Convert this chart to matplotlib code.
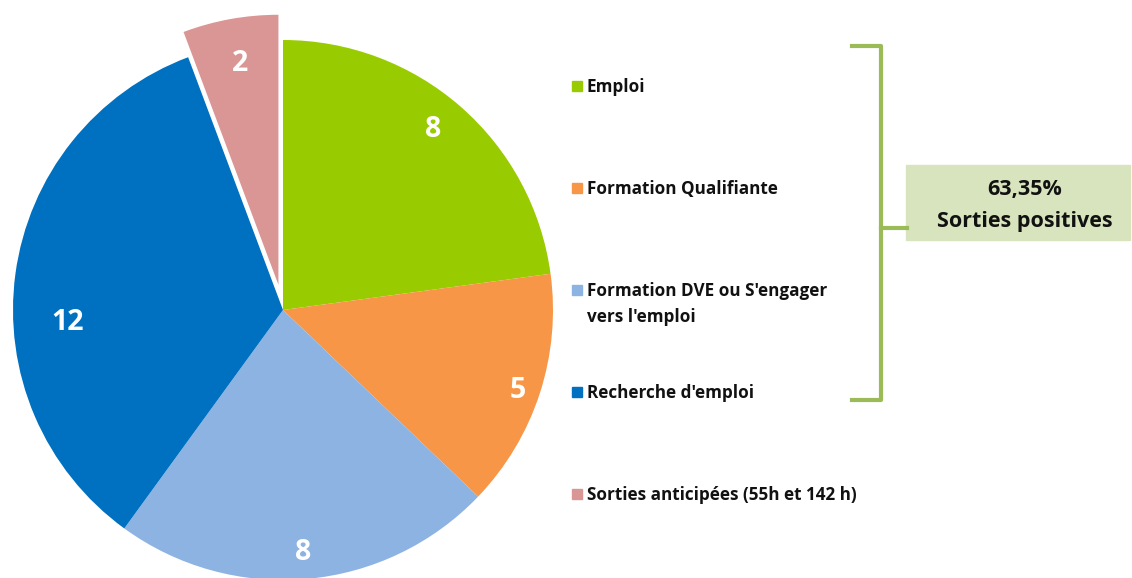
import numpy as np
import matplotlib.pyplot as plt
from matplotlib.patches import Rectangle

labels = ["Emploi", "Formation Qualifiante", "Formation DVE ou S'engager\nvers l'emploi",
          "Recherche d'emploi", "Sorties anticipées (55h et 142 h)"]
values = [8, 5, 8, 12, 2]
colors = ["#99cc00", "#f79646", "#8db3e2", "#0070c0", "#d99694"]
explode = [0, 0, 0, 0, 0.095]
box_text = "63,35%\nSorties positives"

# label placement tweaks (radius fraction, angle shift in degrees)
lab_r = [0.87, 0.92, 0.90, 0.80, 0.83]
lab_da = [1.5, -1, -0.5, 11, -0.5]

plt.rcParams['font.family'] = ['Open Sans', 'DejaVu Sans']

W, H = 1132, 578
fig = plt.figure(figsize=(W / 100, H / 100), dpi=100)

# pie axes: centre (283,310) px, radius 270 px
ax = fig.add_axes([13 / W, (H - 580) / H, 540 / W, 540 / H])
wedges, _ = ax.pie(values, colors=colors, explode=explode, startangle=90,
                   counterclock=False)
for w, v, r, da in zip(wedges, values, lab_r, lab_da):
    w.set_clip_on(False)
    ang = np.deg2rad((w.theta1 + w.theta2) / 2 + da)
    cx, cy = w.center
    ax.text(cx + r * np.cos(ang), cy + r * np.sin(ang), str(v), ha="center", va="center",
            color="white", fontsize=20.5, fontweight="bold", clip_on=False)
ax.set_xlim(-1, 1)
ax.set_ylim(-1, 1)
ax.set_aspect("equal")
ax.axis("off")

# legend drawn by hand
def fx(px):
    return px / W

def fy(py):
    return 1 - py / H

rows = [86, 188, 290, 392, 494]
for lab, col, y in zip(labels, colors, rows):
    fig.patches.append(Rectangle((fx(572), fy(y + 5)), 10 / W, 10 / H, color=col,
                                 transform=fig.transFigure, figure=fig))
    for i, line in enumerate(lab.split("\n")):
        fig.text(fx(587), fy(y + 6 + 26 * i), line, ha="left", va="baseline", fontsize=12.3,
                 fontweight="bold", color="#111111")

# bracket
bc = "#9bbb59"
fig.add_artist(plt.Line2D([fx(852), fx(881), fx(881), fx(852)],
                          [fy(46), fy(46), fy(400), fy(400)], color=bc, lw=3))
fig.add_artist(plt.Line2D([fx(881), fx(907)], [fy(228), fy(228)], color=bc, lw=3))

# summary box
fig.patches.append(Rectangle((fx(906), fy(240)), 224 / W, 75 / H, color="#d7e4bd",
                             transform=fig.transFigure, figure=fig))
for i, line in enumerate(box_text.split("\n")):
    fig.text(fx(1025), fy(195 + 32 * i), line, ha="center", va="baseline", fontsize=15.5,
             fontweight="bold", color="#111111")

fig.savefig("out.png", dpi=100)
